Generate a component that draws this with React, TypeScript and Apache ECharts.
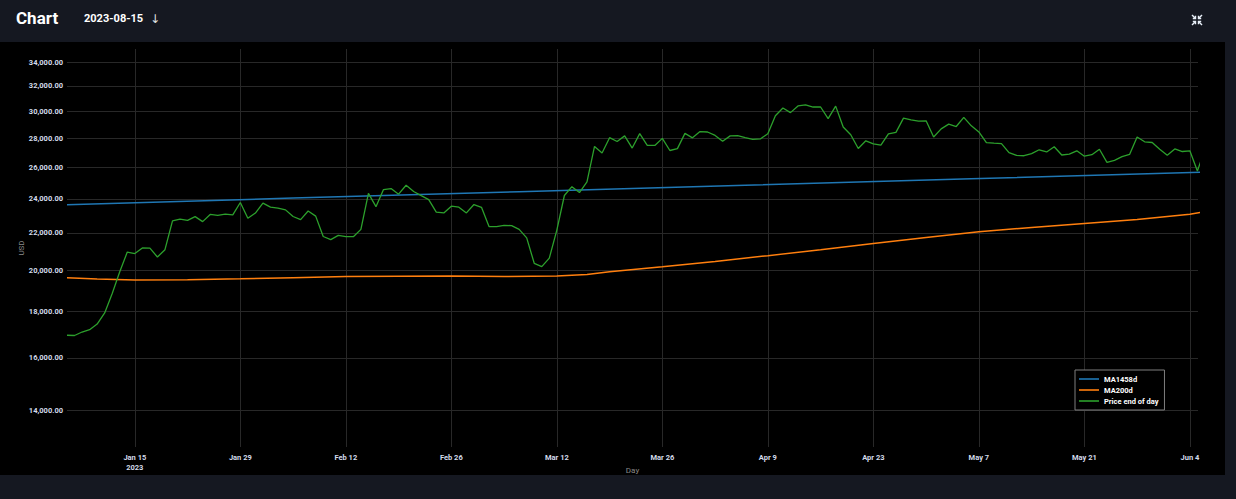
import React, { useEffect, useRef } from 'react';
import * as echarts from 'echarts';

// ---------- data ----------
const PRICE_START = '2023-01-06';
// "Price end of day", daily from 2023-01-06 to 2023-06-06
const priceValues = [
  // Jan 6 - Jan 31
  16950, 16940, 17090, 17190, 17440, 17940, 18850, 19930, 20950, 20870, 21170, 21160, 20690, 21080,
  22680, 22780, 22710, 22930, 22640, 23060, 23010, 23080, 23030, 23770, 22840, 23140,
  // Feb
  23730, 23490, 23430, 23330, 22940, 22760, 23260, 22960, 21800, 21630, 21860, 21790, 21790, 22200,
  24330, 23520, 24570, 24630, 24280, 24840, 24450, 24190, 23950, 23200, 23150, 23550, 23490, 23150,
  // Mar
  23650, 23480, 22360, 22350, 22430, 22410, 22200, 21720, 20360, 20190, 20630, 22160, 24200, 24750,
  24380, 25050, 27420, 26970, 28040, 27770, 28170, 27310, 28330, 27490, 27490, 27990, 27140, 27270,
  28350, 28030, 28480,
  // Apr
  28450, 28200, 27790, 28170, 28180, 28040, 27920, 27950, 28330, 29650, 30240, 29890, 30400, 30490,
  30320, 30320, 29430, 30390, 28820, 28250, 27280, 27820, 27600, 27520, 28310, 28420, 29470, 29340,
  29250, 29270,
  // May
  28090, 28680, 29030, 28850, 29530, 28900, 28450, 27690, 27650, 27620, 26990, 26800, 26780, 26930,
  27190, 27040, 27400, 26830, 26890, 27120, 26750, 26850, 27230, 26330, 26470, 26720, 26870, 28090,
  27750, 27700, 27220,
  // Jun 1 - Jun 6
  26820, 27250, 27070, 27120, 25760, 27240,
];

const ma1458Dates = ['2023-01-06', '2023-02-05', '2023-03-07', '2023-04-06', '2023-05-06', '2023-06-06'];
const ma1458Values = [23640, 24040, 24430, 24840, 25250, 25680];

const ma200Dates = [
  '2023-01-06', '2023-01-10', '2023-01-15', '2023-01-22', '2023-01-29', '2023-02-05', '2023-02-12',
  '2023-02-19', '2023-02-26', '2023-03-05', '2023-03-12', '2023-03-16', '2023-03-19', '2023-03-26',
  '2023-04-02', '2023-04-09', '2023-04-16', '2023-04-23', '2023-04-30', '2023-05-07', '2023-05-14',
  '2023-05-21', '2023-05-28', '2023-06-04', '2023-06-06',
];
const ma200Values = [
  19620, 19560, 19510, 19530, 19570, 19630, 19690,
  19700, 19710, 19690, 19710, 19790, 19930, 20180,
  20460, 20760, 21080, 21420, 21740, 22060, 22310,
  22540, 22770, 23070, 23230,
];

const xTickDates = [
  '2023-01-15', '2023-01-29', '2023-02-12', '2023-02-26', '2023-03-12', '2023-03-26',
  '2023-04-09', '2023-04-23', '2023-05-07', '2023-05-21', '2023-06-04',
];
const yTickValues = [14000, 16000, 18000, 20000, 22000, 24000, 26000, 28000, 30000, 32000, 34000];

const MONTHS = ['Jan', 'Feb', 'Mar', 'Apr', 'May', 'Jun', 'Jul', 'Aug', 'Sep', 'Oct', 'Nov', 'Dec'];
const DAY = 86400000;
const toUTC = (s: string) => {
  const [y, m, d] = s.split('-').map(Number);
  return Date.UTC(y, m - 1, d);
};

const FONT = 'Roboto, "Noto Sans", sans-serif';
const LABEL_COLOR = '#d3dbea';
const LEGEND_ICON = 'path://M0,0H20V1.6H0Z';

export default function App() {
  const ref = useRef<HTMLDivElement>(null);

  useEffect(() => {
    if (!ref.current) return;
    const chart = echarts.init(ref.current, null, { renderer: 'svg' });

    const start = toUTC(PRICE_START);
    const priceData = priceValues.map((v, i) => [start + i * DAY, v]);
    const ma1458Data = ma1458Dates.map((d, i) => [toUTC(d), ma1458Values[i]]);
    const ma200Data = ma200Dates.map((d, i) => [toUTC(d), ma200Values[i]]);
    const xTicks = xTickDates.map(toUTC);

    const cx = 1197;
    const cy = 20;
    const iconLines: any[] = [];
    [[-1, -1], [1, -1], [-1, 1], [1, 1]].forEach(([sx, sy]) => {
      iconLines.push({
        type: 'line',
        shape: { x1: cx + sx * 5, y1: cy + sy * 5, x2: cx + sx * 1.5, y2: cy + sy * 1.5 },
        style: { stroke: '#e8eef8', lineWidth: 1.4 },
      });
      iconLines.push({
        type: 'polyline',
        shape: { points: [[cx + sx * 1.5, cy + sy * 4.2], [cx + sx * 1.5, cy + sy * 1.5], [cx + sx * 4.2, cy + sy * 1.5]] },
        style: { stroke: '#e8eef8', lineWidth: 1.4, fill: 'none' },
      });
    });

    chart.setOption({
      animation: false,
      backgroundColor: 'transparent',
      textStyle: { fontFamily: FONT },
      grid: { left: 67, right: 38, top: 49, bottom: 52, containLabel: false },
      graphic: [
        {
          type: 'text', left: 16, top: 9,
          style: { text: 'Chart', fill: '#ffffff', font: `bold 17px ${FONT}` },
        },
        {
          type: 'text', left: 84, top: 13,
          style: { text: '2023-08-15', fill: '#ffffff', font: `bold 11px ${FONT}` },
        },
        {
          type: 'text', left: 150, top: 13,
          style: { text: '↓', fill: '#e0e0e0', font: `12px "DejaVu Sans", sans-serif` },
        },
        ...iconLines,
      ],
      legend: {
        data: [
          { name: 'MA1458d', icon: LEGEND_ICON },
          { name: 'MA200d', icon: LEGEND_ICON },
          { name: 'Price end of day', icon: LEGEND_ICON },
        ],
        orient: 'vertical',
        left: 1075,
        top: 370,
        padding: [5, 6, 5, 4],
        itemWidth: 20,
        itemHeight: 10,
        itemGap: 3,
        borderColor: '#7f7f7f',
        borderWidth: 1,
        backgroundColor: '#000000',
        textStyle: { color: '#ffffff', fontSize: 7.5, fontWeight: 'bold', fontFamily: FONT },
      },
      xAxis: {
        type: 'value',
        min: start,
        max: toUTC('2023-06-05') + 0.08 * DAY,
        name: 'Day',
        nameLocation: 'middle',
        nameGap: 19,
        nameMoveOverlap: false,
        nameTextStyle: { color: '#8a8a8a', fontSize: 8, fontFamily: FONT },
        axisLine: { show: false },
        axisTick: { show: false, customValues: xTicks },
        splitLine: { show: true, lineStyle: { color: '#282828', width: 1 } },
        axisLabel: {
          customValues: xTicks,
          color: LABEL_COLOR,
          fontSize: 7.5,
          fontWeight: 'bold',
          fontFamily: FONT,
          lineHeight: 10,
          margin: 5,
          formatter: (v: number) => {
            const d = new Date(v);
            const label = `${MONTHS[d.getUTCMonth()]} ${d.getUTCDate()}`;
            return Math.abs(v - xTicks[0]) < DAY / 2 ? `${label}\n${d.getUTCFullYear()}` : label;
          },
        },
      },
      yAxis: {
        type: 'log',
        logBase: 10,
        min: 12750,
        max: 35150,
        name: 'USD',
        nameLocation: 'middle',
        nameGap: 42,
        nameMoveOverlap: false,
        nameTextStyle: { color: '#8a8a8a', fontSize: 8, fontFamily: FONT },
        axisLine: { show: false },
        axisTick: { show: false, customValues: yTickValues },
        splitLine: { show: true, lineStyle: { color: '#282828', width: 1 } },
        axisLabel: {
          customValues: yTickValues,
          color: LABEL_COLOR,
          fontSize: 7.5,
          fontWeight: 'bold',
          fontFamily: FONT,
          margin: 4,
          formatter: (v: number) =>
            Number(v).toLocaleString('en-US', { minimumFractionDigits: 2, maximumFractionDigits: 2 }),
        },
      },
      series: [
        {
          name: 'MA1458d', type: 'line', data: ma1458Data, symbol: 'none',
          lineStyle: { color: '#1f77b4', width: 1.5 }, itemStyle: { color: '#1f77b4' },
        },
        {
          name: 'MA200d', type: 'line', data: ma200Data, symbol: 'none',
          lineStyle: { color: '#ff7f0e', width: 1.5 }, itemStyle: { color: '#ff7f0e' },
        },
        {
          name: 'Price end of day', type: 'line', data: priceData, symbol: 'none',
          lineStyle: { color: '#2ca02c', width: 1.3 }, itemStyle: { color: '#2ca02c' },
        },
      ],
    });

    return () => chart.dispose();
  }, []);

  return (
    <div style={{ position: 'fixed', left: 0, top: 0, width: 1236, height: 499, background: '#151821' }}>
      <div style={{ position: 'absolute', left: 0, top: 42, width: 1225, height: 433, background: '#000000' }} />
      <div ref={ref} style={{ position: 'absolute', left: 0, top: 0, width: 1236, height: 499 }} />
    </div>
  );
}
